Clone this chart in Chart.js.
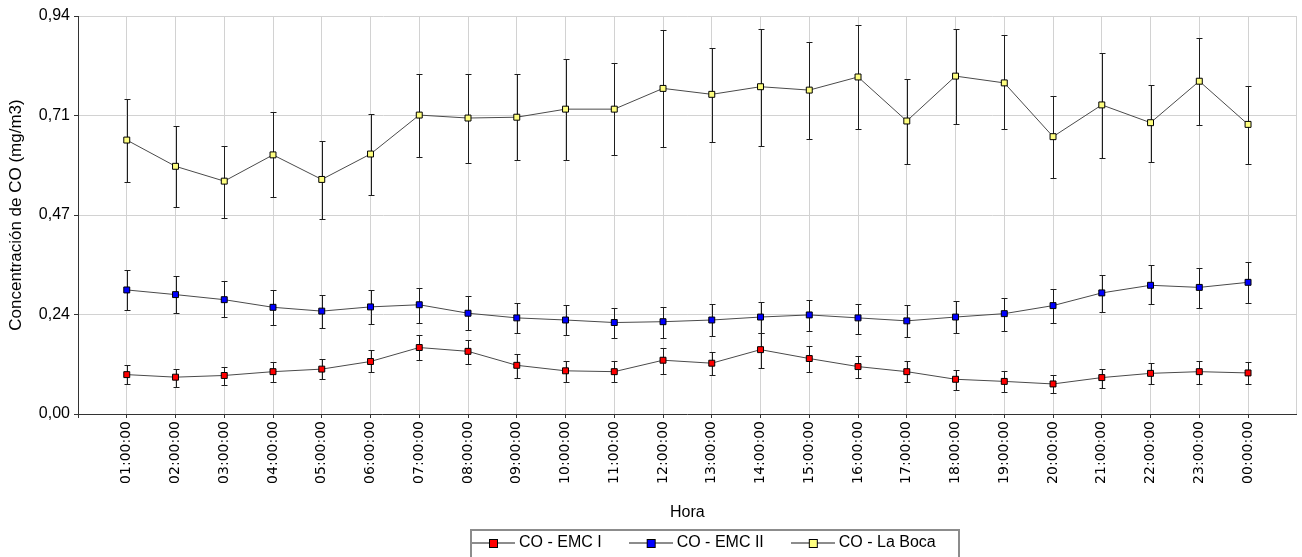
<!DOCTYPE html>
<html>
<head>
<meta charset="utf-8">
<script src="https://cdn.jsdelivr.net/npm/chart.js@4"></script>
<style>
  html, body { margin: 0; padding: 0; background: #fff; }
  #wrap { width: 1302px; height: 557px; }
</style>
</head>
<body>
<div id="wrap"><canvas id="coChart" width="1302" height="557"></canvas></div>
<script>
// hours on the x axis
const hours = ["01:00:00", "02:00:00", "03:00:00", "04:00:00", "05:00:00", "06:00:00",
  "07:00:00", "08:00:00", "09:00:00", "10:00:00", "11:00:00", "12:00:00",
  "13:00:00", "14:00:00", "15:00:00", "16:00:00", "17:00:00", "18:00:00",
  "19:00:00", "20:00:00", "21:00:00", "22:00:00", "23:00:00", "00:00:00"];

const yTicks = [0, 0.235, 0.47, 0.705, 0.94];
const yTickLabels = ["0,00", "0,24", "0,47", "0,71", "0,94"];

const seriesNames = ["CO - EMC I", "CO - EMC II", "CO - La Boca"];
const seriesColors = ["#ff0000", "#0000ff", "#ffff80"];

// CO - EMC I
const emcI = [0.093, 0.087, 0.091, 0.100, 0.106, 0.124, 0.157, 0.148, 0.115, 0.102, 0.100, 0.127,
  0.120, 0.152, 0.131, 0.112, 0.100, 0.082, 0.077, 0.071, 0.086, 0.096, 0.100, 0.097];
const emcIHigh = [0.115, 0.107, 0.112, 0.122, 0.129, 0.150, 0.186, 0.174, 0.141, 0.126, 0.124, 0.155,
  0.146, 0.191, 0.160, 0.138, 0.124, 0.105, 0.101, 0.092, 0.107, 0.120, 0.124, 0.122];
const emcILow = [0.070, 0.064, 0.068, 0.075, 0.083, 0.099, 0.128, 0.118, 0.086, 0.075, 0.075, 0.095,
  0.093, 0.108, 0.100, 0.085, 0.075, 0.056, 0.052, 0.050, 0.062, 0.070, 0.072, 0.072];

// CO - EMC II
const emcII = [0.293, 0.282, 0.270, 0.252, 0.243, 0.253, 0.258, 0.238, 0.227, 0.222, 0.216, 0.218,
  0.222, 0.229, 0.234, 0.227, 0.220, 0.229, 0.237, 0.256, 0.286, 0.304, 0.299, 0.311];
const emcIIHigh = [0.340, 0.326, 0.313, 0.293, 0.282, 0.294, 0.298, 0.278, 0.263, 0.257, 0.250, 0.253,
  0.260, 0.264, 0.270, 0.260, 0.257, 0.267, 0.274, 0.296, 0.329, 0.352, 0.346, 0.358];
const emcIILow = [0.246, 0.238, 0.228, 0.211, 0.203, 0.213, 0.215, 0.198, 0.191, 0.187, 0.179, 0.179,
  0.184, 0.191, 0.196, 0.188, 0.182, 0.191, 0.196, 0.215, 0.242, 0.260, 0.250, 0.263];

// CO - La Boca
const laBoca = [0.647, 0.585, 0.550, 0.612, 0.554, 0.614, 0.706, 0.699, 0.701, 0.720, 0.720, 0.769,
  0.755, 0.773, 0.765, 0.796, 0.692, 0.798, 0.782, 0.655, 0.730, 0.688, 0.786, 0.684];
const laBocaHigh = [0.743, 0.680, 0.633, 0.713, 0.644, 0.708, 0.802, 0.802, 0.802, 0.838, 0.829, 0.906,
  0.864, 0.909, 0.878, 0.918, 0.791, 0.909, 0.894, 0.752, 0.853, 0.778, 0.889, 0.775];
const laBocaLow = [0.547, 0.489, 0.464, 0.512, 0.460, 0.518, 0.607, 0.592, 0.601, 0.601, 0.611, 0.630,
  0.642, 0.634, 0.650, 0.673, 0.590, 0.686, 0.672, 0.557, 0.605, 0.595, 0.682, 0.591];

const FONT = "'Liberation Sans', Arial, sans-serif";

function toPoints(values) {
  return values.map((v, i) => ({ x: i + 1, y: v }));
}

// little line + square icon for the legend
function legendIcon(fill) {
  const c = document.createElement("canvas");
  c.width = 44;
  c.height = 12;
  const g = c.getContext("2d");
  g.strokeStyle = "#666";
  g.lineWidth = 1.5;
  g.beginPath();
  g.moveTo(0, 6);
  g.lineTo(44, 6);
  g.stroke();
  g.fillStyle = fill;
  g.fillRect(18, 2, 9, 9);
  g.strokeStyle = "#000";
  g.lineWidth = 1;
  g.strokeRect(18.5, 2.5, 8, 8);
  return c;
}
const legendIcons = seriesColors.map(legendIcon);

const errorBars = {
  id: "errorBars",
  beforeDatasetsDraw(chart) {
    const ctx = chart.ctx;
    const yScale = chart.scales.y;
    ctx.save();
    ctx.strokeStyle = "#1e1e1e";
    ctx.lineWidth = 1;
    chart.data.datasets.forEach((ds, i) => {
      const meta = chart.getDatasetMeta(i);
      meta.data.forEach((pt, j) => {
        const x = Math.round(pt.x) + 0.5;
        const top = Math.round(yScale.getPixelForValue(ds.errHigh[j])) + 0.5;
        const bot = Math.round(yScale.getPixelForValue(ds.errLow[j])) + 0.5;
        ctx.beginPath();
        ctx.moveTo(x, top);
        ctx.lineTo(x, bot);
        ctx.moveTo(x - 3, top);
        ctx.lineTo(x + 3, top);
        ctx.moveTo(x - 3, bot);
        ctx.lineTo(x + 3, bot);
        ctx.stroke();
      });
    });
    ctx.restore();
  }
};

// put the legend where the original has it, and draw its frame
const legendBox = {
  id: "legendBox",
  afterLayout(chart) {
    const lg = chart.legend;
    lg.left = 444;
    lg.right = 1302;
    lg.top = 504;
    lg.bottom = 557;
    lg.width = lg.right - lg.left;
    lg.height = lg.bottom - lg.top;
  },
  afterDraw(chart) {
    const ctx = chart.ctx;
    ctx.save();
    ctx.strokeStyle = "#8c8c8c";
    ctx.lineWidth = 2;
    ctx.strokeRect(471, 530, 488, 40);
    ctx.restore();
  }
};

function makeDataset(i, values, low, high) {
  return {
    label: seriesNames[i],
    data: toPoints(values),
    errLow: low,
    errHigh: high,
    borderColor: "#4a4a4a",
    borderWidth: 1,
    pointStyle: "rect",
    pointRadius: 4.2,
    pointHoverRadius: 4.2,
    pointBackgroundColor: seriesColors[i],
    pointBorderColor: "#000",
    pointBorderWidth: 1,
    tension: 0,
    fill: false
  };
}

const chart = new Chart(document.getElementById("coChart"), {
  type: "line",
  data: {
    datasets: [
      makeDataset(0, emcI, emcILow, emcIHigh),
      makeDataset(1, emcII, emcIILow, emcIIHigh),
      makeDataset(2, laBoca, laBocaLow, laBocaHigh)
    ]
  },
  options: {
    responsive: false,
    animation: false,
    events: [],
    layout: { padding: { top: 16, right: 2, bottom: 0, left: 0 } },
    plugins: {
      tooltip: { enabled: false },
      legend: {
        position: "bottom",
        align: "start",
        maxHeight: 35,
        labels: {
          usePointStyle: true,
          pointStyleWidth: 36,
          padding: 31,
          color: "#000",
          font: { family: FONT, size: 16 },
          generateLabels(chart) {
            const items = Chart.defaults.plugins.legend.labels.generateLabels(chart);
            items.forEach((it, i) => { it.pointStyle = legendIcons[i]; });
            return items;
          }
        }
      }
    },
    scales: {
      x: {
        type: "linear",
        min: 0,
        max: 25,
        afterBuildTicks(s) {
          const t = [];
          for (let k = 0; k <= 25; k++) t.push({ value: k });
          s.ticks = t;
        },
        ticks: {
          autoSkip: false,
          maxRotation: 90,
          minRotation: 90,
          padding: 3,
          color: "#000",
          font: { family: "'DejaVu Sans', sans-serif", size: 14 },
          callback: v => hours[v - 1] || ""
        },
        grid: {
          color: c => (c.tick && c.tick.value === 0) ? "rgba(0,0,0,0)" : "#d2d2d2",
          tickColor: c => (c.tick && c.tick.value === 25) ? "rgba(0,0,0,0)" : "#333",
          tickLength: 4
        },
        border: { color: "#333" },
        title: {
          display: true,
          text: "Hora",
          color: "#000",
          font: { family: FONT, size: 16 },
          padding: 0
        },
        afterFit(s) {
          s.height = 108;
          s.paddingLeft = 0;
          s.paddingRight = 0;
        }
      },
      y: {
        min: 0,
        max: 0.94,
        afterBuildTicks(s) {
          s.ticks = yTicks.map(v => ({ value: v }));
        },
        ticks: {
          padding: 4,
          color: "#000",
          font: { family: FONT, size: 16 },
          callback: (v, i) => yTickLabels[i]
        },
        grid: {
          color: c => (c.tick && c.tick.value === 0) ? "rgba(0,0,0,0)" : "#d2d2d2",
          tickColor: "#333",
          tickLength: 4
        },
        border: { color: "#333" },
        title: {
          display: true,
          text: "Concentración de CO (mg/m3)",
          color: "#000",
          font: { family: FONT, size: 17 },
          padding: { top: 6, bottom: 0 }
        },
        afterFit(s) {
          s.width = 78;
          s.paddingTop = 0;
          s.paddingBottom = 0;
        }
      }
    }
  },
  plugins: [errorBars, legendBox]
});
</script>
</body>
</html>
